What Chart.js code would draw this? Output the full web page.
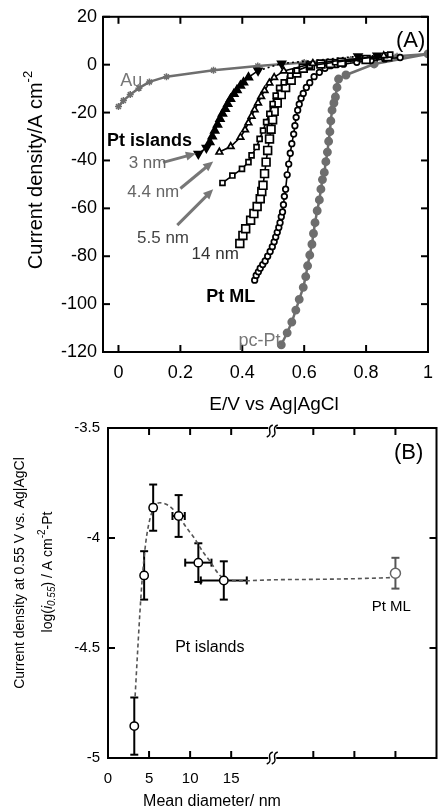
<!DOCTYPE html>
<html>
<head>
<meta charset="utf-8">
<script src="https://cdn.jsdelivr.net/npm/chart.js@4.4.0/dist/chart.umd.min.js"></script>
<style>
  html, body { margin: 0; padding: 0; background: #fff; }
  #wrap { position: relative; width: 443px; height: 811px; }
  #wrap canvas { position: absolute; left: 0; }
</style>
</head>
<body>
<div id="wrap">
  <canvas id="chartA" width="443" height="420" style="top:0"></canvas>
  <canvas id="chartB" width="443" height="400" style="top:411px"></canvas>
</div>
<script>
// ---------- panel (A): polarization curves ----------
const xTicksA = [0, 0.2, 0.4, 0.6, 0.8, 1];
const yTicksA = [-120, -100, -80, -60, -40, -20, 0, 20];

const au_E = [0, 0.016, 0.038, 0.066, 0.1, 0.155, 0.307, 0.45, 0.6, 0.75, 0.9, 1.0];
const au_J = [-17.5, -15, -12.5, -9.8, -7.2, -5, -2.3, -0.5, 0.9, 2.2, 3.5, 4.5];

const pt3_E = [0.258, 0.284, 0.295, 0.303, 0.311, 0.32, 0.328, 0.336, 0.345, 0.353, 0.362, 0.373, 0.383, 0.394, 0.404, 0.42, 0.451, 0.527, 0.774, 0.836];
const pt3_J = [-37.2, -34.7, -32.4, -30, -27.5, -25, -22.6, -20.5, -18.5, -16.4, -14.3, -12.2, -10.6, -8.75, -7.4, -5.3, -2.5, 0.5, 3.5, 3.75];

const pt44_E = [0.326, 0.3625, 0.394, 0.409, 0.42, 0.43, 0.44, 0.451, 0.461, 0.472, 0.4875, 0.503, 0.534, 0.628, 0.857];
const pt44_J = [-36.5, -34.2, -30.3, -27.2, -24.3, -21.5, -18.8, -16, -13.3, -10.8, -7.6, -5.3, -2.6, 0.5, 3.75];

const pt55_E = [0.336, 0.368, 0.399, 0.42, 0.43, 0.446, 0.456, 0.467, 0.477, 0.4875, 0.498, 0.508, 0.519, 0.534, 0.555, 0.576, 0.618, 0.7, 0.878];
const pt55_J = [-49.4, -46.3, -43.5, -40.7, -37.9, -34.4, -31, -27.5, -24, -20.5, -16.4, -12.9, -9.7, -7.4, -4.6, -2.5, -0.4, 1, 4.2];

const pt14_E = [0.392, 0.402, 0.411, 0.427, 0.4375, 0.448, 0.458, 0.463, 0.467, 0.472, 0.477, 0.482, 0.488, 0.493, 0.498, 0.503, 0.513, 0.526, 0.54, 0.558, 0.576, 0.597, 0.62, 0.654, 0.685, 0.72, 0.8, 0.87];
const pt14_J = [-74.7, -71.3, -68.5, -65, -62.2, -59.2, -56, -53, -50.4, -45.5, -40.7, -35.8, -31, -27, -23, -19.5, -16, -12.5, -9.5, -6.5, -3.5, -1.5, -0.5, 0.3, 0.5, 1, 2.2, 3.3];

const ptML_E = [0.44, 0.445, 0.452, 0.458, 0.466, 0.474, 0.482, 0.49, 0.497, 0.503, 0.508, 0.513, 0.518, 0.522, 0.526, 0.53, 0.533, 0.536, 0.54, 0.545, 0.55, 0.555, 0.56, 0.566, 0.57, 0.574, 0.579, 0.584, 0.59, 0.597, 0.607, 0.618, 0.632, 0.649, 0.667, 0.685, 0.705, 0.727, 0.77, 0.816, 0.86, 0.91];
const ptML_J = [-90, -88, -86.5, -85, -83.5, -82, -80, -78, -76, -74, -72, -70, -68, -66, -63.5, -61.5, -58.5, -55, -52, -46, -41.5, -37, -33, -29, -25.5, -22, -19, -16.5, -14, -12, -9.5, -7.5, -5, -3.2, -1.5, -0.4, 0, 0.2, 1, 1.7, 2.4, 3];

const pcPt_E = [0.526, 0.545, 0.56, 0.573, 0.584, 0.597, 0.605, 0.611, 0.618, 0.625, 0.63, 0.635, 0.642, 0.649, 0.654, 0.659, 0.665, 0.67, 0.675, 0.679, 0.683, 0.686, 0.69, 0.696, 0.701, 0.706, 0.711, 0.735, 0.826, 1.0];
const pcPt_J = [-117, -112, -107.5, -102.5, -98, -93, -88.5, -84, -79.5, -75, -70.5, -66, -61, -56.5, -52, -48, -45, -40.5, -36.5, -32, -28, -23.5, -19, -16, -13.5, -9.5, -6, -4.3, 0.3, 4.5];

// ---------- panel (B): activity vs island size ----------
const xTicksB = [0, 5, 10, 15];
const xMarksB = [5, 10, 15, 25, 30, 35];
const yTicksB = [-5, -4.5, -4, -3.5];
const xBreakB = 20;

const isl_D = [3.2, 4.4, 5.5, 8.6, 11.0, 14.1];
const isl_logI = [-4.855, -4.17, -3.862, -3.9, -4.112, -4.193];
const isl_errY = [0.13, 0.11, 0.105, 0.095, 0.088, 0.087];
const isl_errX = [0, 0.25, 0.3, 0.75, 1.6, 2.8];

const ml_D = [35];
const ml_logI = [-4.16];
const ml_errY = [0.07];
const ml_errX = [0];

const guide_D = [3.3, 3.6, 3.9, 4.2, 4.6, 5.0, 5.6, 6.3, 7.0, 7.8, 8.6, 9.5, 10.5, 11.5, 12.5, 13.5, 14.5, 16, 20, 25, 30, 34.5];
const guide_logI = [-4.72, -4.52, -4.33, -4.17, -4.02, -3.93, -3.86, -3.84, -3.845, -3.865, -3.9, -3.95, -4.0, -4.06, -4.11, -4.165, -4.19, -4.195, -4.19, -4.188, -4.185, -4.18];

// ---------- helpers ----------
Chart.defaults.font.family = '"Liberation Sans", Arial, Helvetica, sans-serif';
Chart.defaults.color = '#000';
Chart.defaults.animation = false;
const FAM = Chart.defaults.font.family;

function pts(xs, ys) {
    return xs.map((x, i) => ({ x: x, y: ys[i] }));
}

function drawRich(ctx, parts, x, y, size, color, rot) {
    ctx.save();
    ctx.translate(x, y);
    if (rot) ctx.rotate(rot);
    ctx.fillStyle = color || '#000';
    ctx.textBaseline = 'middle';
    ctx.textAlign = 'left';
    const list = parts.map(p => typeof p === 'string' ? { t: p } : p);
    const fontOf = p => (p.italic ? 'italic ' : '') + (p.bold ? 'bold ' : '') +
        Math.round(size * (p.scale || 1)) + 'px ' + FAM;
    let w = 0;
    list.forEach(p => { ctx.font = fontOf(p); w += ctx.measureText(p.t).width; });
    let cx = -w / 2;
    list.forEach(p => {
        ctx.font = fontOf(p);
        ctx.fillText(p.t, cx, (p.dy || 0) * size);
        cx += ctx.measureText(p.t).width;
    });
    ctx.restore();
}

function line(ctx, x1, y1, x2, y2) {
    ctx.beginPath();
    ctx.moveTo(x1, y1);
    ctx.lineTo(x2, y2);
    ctx.stroke();
}

// frame, inward ticks, error bars, labels, arrows, axis breaks
function makeDecor(cfg) {
    return {
        id: 'decor',
        beforeDatasetsDraw(chart) {
            const ctx = chart.ctx, xs = chart.scales.x, ys = chart.scales.y;
            (cfg.errBars || []).forEach(eb => {
                ctx.save();
                ctx.strokeStyle = eb.color;
                ctx.lineWidth = 2;
                eb.xs.forEach((xv, i) => {
                    const yv = eb.ys[i];
                    const px = xs.getPixelForValue(xv), py = ys.getPixelForValue(yv);
                    if (eb.errY[i]) {
                        const y1 = ys.getPixelForValue(yv + eb.errY[i]);
                        const y2 = ys.getPixelForValue(yv - eb.errY[i]);
                        line(ctx, px, y1, px, y2);
                        line(ctx, px - 4, y1, px + 4, y1);
                        line(ctx, px - 4, y2, px + 4, y2);
                    }
                    if (eb.errX[i]) {
                        const x1 = xs.getPixelForValue(xv - eb.errX[i]);
                        const x2 = xs.getPixelForValue(xv + eb.errX[i]);
                        line(ctx, x1, py, x2, py);
                        line(ctx, x1, py - 4, x1, py + 4);
                        line(ctx, x2, py - 4, x2, py + 4);
                    }
                });
                ctx.restore();
            });
        },
        afterDraw(chart) {
            const ctx = chart.ctx, a = chart.chartArea;
            const xs = chart.scales.x, ys = chart.scales.y;
            ctx.save();
            ctx.strokeStyle = '#000';
            ctx.lineWidth = 2;
            ctx.strokeRect(a.left, a.top, a.right - a.left, a.bottom - a.top);
            const tl = 7;
            cfg.xMarks.forEach(v => {
                const px = xs.getPixelForValue(v);
                line(ctx, px, a.bottom, px, a.bottom - tl);
                line(ctx, px, a.top, px, a.top + tl);
            });
            cfg.yMarks.forEach(v => {
                const py = ys.getPixelForValue(v);
                line(ctx, a.left, py, a.left + tl, py);
                line(ctx, a.right, py, a.right - tl, py);
            });
            (cfg.breaks || []).forEach(v => {
                const px = xs.getPixelForValue(v);
                [a.top + 3, a.bottom].forEach(cy => {
                    ctx.fillStyle = '#fff';
                    ctx.fillRect(px - 4, cy - 4, 8, 8);
                    ctx.lineWidth = 1.5;
                    [-2.5, 2.5].forEach(dx => {
                        ctx.beginPath();
                        ctx.moveTo(px + dx - 3, cy + 6);
                        ctx.bezierCurveTo(px + dx + 5, cy + 3, px + dx - 5, cy - 3, px + dx + 3, cy - 6);
                        ctx.stroke();
                    });
                });
            });
            (cfg.arrows || []).forEach(ar => {
                const x1 = xs.getPixelForValue(ar.from[0]), y1 = ys.getPixelForValue(ar.from[1]);
                const x2 = xs.getPixelForValue(ar.to[0]), y2 = ys.getPixelForValue(ar.to[1]);
                const ang = Math.atan2(y2 - y1, x2 - x1);
                const hl = 10, hw = 4.5;
                ctx.strokeStyle = '#777';
                ctx.fillStyle = '#777';
                ctx.lineWidth = 3;
                line(ctx, x1, y1, x2 - Math.cos(ang) * hl * 0.8, y2 - Math.sin(ang) * hl * 0.8);
                ctx.beginPath();
                ctx.moveTo(x2, y2);
                ctx.lineTo(x2 - Math.cos(ang) * hl - Math.sin(ang) * hw, y2 - Math.sin(ang) * hl + Math.cos(ang) * hw);
                ctx.lineTo(x2 - Math.cos(ang) * hl + Math.sin(ang) * hw, y2 - Math.sin(ang) * hl - Math.cos(ang) * hw);
                ctx.closePath();
                ctx.fill();
            });
            ctx.restore();
            (cfg.labels || []).forEach(l => {
                drawRich(ctx, l.parts, xs.getPixelForValue(l.x), ys.getPixelForValue(l.y), l.size, l.color);
            });
            (cfg.titles || []).forEach(t => {
                drawRich(ctx, t.parts, t.px, t.py, t.size, t.color, t.rot);
            });
        }
    };
}

function fmt(v) { return String(v); }

// ---------- chart A ----------
const decorA = makeDecor({
    xMarks: xTicksA,
    yMarks: yTicksA,
    labels: [
        { x: 0.944, y: 10, parts: ['(A)'], size: 22, color: '#000' },
        { x: 0.041, y: -6.7, parts: ['Au'], size: 18, color: '#777' },
        { x: 0.1, y: -31.7, parts: [{ t: 'Pt islands', bold: true }], size: 18, color: '#000' },
        { x: 0.094, y: -41.3, parts: ['3 nm'], size: 17, color: '#666' },
        { x: 0.1125, y: -53.3, parts: ['4.4 nm'], size: 17, color: '#666' },
        { x: 0.144, y: -72.5, parts: ['5.5 nm'], size: 17, color: '#444' },
        { x: 0.3125, y: -79.2, parts: ['14 nm'], size: 17, color: '#333' },
        { x: 0.3625, y: -97.1, parts: [{ t: 'Pt ML', bold: true }], size: 18, color: '#000' },
        { x: 0.456, y: -115.4, parts: ['pc-Pt'], size: 18, color: '#777' }
    ],
    arrows: [
        { from: [0.144, -40.8], to: [0.25, -37.1] },
        { from: [0.2, -51.7], to: [0.306, -40.4] },
        { from: [0.19, -67], to: [0.306, -52] }
    ],
    titles: [
        { px: 274, py: 405, parts: ['E/V vs Ag|AgCl'], size: 19 },
        { px: 36, py: 170, rot: -Math.PI / 2, size: 20,
          parts: ['Current density/A cm', { t: '-2', scale: 0.65, dy: -0.4 }] }
    ]
});

const blackLine = { borderColor: '#000', borderWidth: 1.6, showLine: true, pointBorderColor: '#000', pointBorderWidth: 1.7 };
const grayLine = { borderColor: '#6e6e6e', borderWidth: 2.5, showLine: true, pointBorderColor: '#6e6e6e', pointBackgroundColor: '#6e6e6e' };

new Chart(document.getElementById('chartA'), {
    type: 'scatter',
    data: {
        datasets: [
            Object.assign({ label: '3 nm', data: pts(pt3_E, pt3_J), pointStyle: 'triangle', pointRadius: 4.5,
                pointBackgroundColor: '#000',
                pointRotation: pt3_E.map((e, i) => (i < 2 || i > 15) ? 180 : 0),
                segment: { borderDash: c => c.p0DataIndex >= 16 ? [2, 3] : undefined } }, blackLine),
            Object.assign({ label: '4.4 nm', data: pts(pt44_E, pt44_J), pointStyle: 'triangle', pointRadius: 3.8,
                pointBackgroundColor: '#fff' }, blackLine),
            Object.assign({ label: '5.5 nm', data: pts(pt55_E, pt55_J), pointStyle: 'rect', pointRadius: 3.5,
                pointBackgroundColor: '#fff' }, blackLine),
            Object.assign({ label: '14 nm', data: pts(pt14_E, pt14_J), pointStyle: 'rect', pointRadius: 5.5,
                pointBackgroundColor: '#fff' }, blackLine),
            Object.assign({ label: 'Pt ML', data: pts(ptML_E, ptML_J), pointStyle: 'circle', pointRadius: 2.8,
                pointBackgroundColor: '#fff' }, blackLine),
            Object.assign({ label: 'pc-Pt', data: pts(pcPt_E, pcPt_J), pointStyle: 'circle', pointRadius: 3.2 }, grayLine),
            Object.assign({ label: 'Au', data: pts(au_E, au_J), pointStyle: 'star', pointRadius: 3.5, pointBorderWidth: 1.5 }, grayLine)
        ]
    },
    options: {
        responsive: false,
        layout: { padding: { left: 0, right: 5, top: 16, bottom: 0 } },
        plugins: { legend: { display: false }, tooltip: { enabled: false } },
        scales: {
            x: {
                type: 'linear', min: -0.05, max: 1.0,
                afterBuildTicks: s => { s.ticks = xTicksA.map(v => ({ value: v })); },
                afterFit: s => { s.height = 68; },
                grid: { display: false, drawTicks: false },
                border: { display: false },
                ticks: { font: { size: 18 }, padding: 10, maxRotation: 0, autoSkip: false, callback: fmt, color: '#000' }
            },
            y: {
                type: 'linear', min: -120, max: 20,
                afterBuildTicks: s => { s.ticks = yTicksA.map(v => ({ value: v })); },
                afterFit: s => { s.width = 103; },
                grid: { display: false, drawTicks: false },
                border: { display: false },
                ticks: { font: { size: 18 }, padding: 6, autoSkip: false, callback: fmt, color: '#000' }
            }
        }
    },
    plugins: [decorA]
});

// ---------- chart B ----------
const decorB = makeDecor({
    xMarks: xMarksB,
    yMarks: yTicksB,
    breaks: [xBreakB],
    errBars: [
        { xs: isl_D, ys: isl_logI, errX: isl_errX, errY: isl_errY, color: '#000' },
        { xs: ml_D, ys: ml_logI, errX: ml_errX, errY: ml_errY, color: '#555' }
    ],
    labels: [
        { x: 36.6, y: -3.614, parts: ['(B)'], size: 22, color: '#000' },
        { x: 34.5, y: -4.314, parts: ['Pt ML'], size: 15, color: '#000' },
        { x: 12.4, y: -4.5, parts: ['Pt islands'], size: 16, color: '#000' }
    ],
    titles: [
        { px: 212, py: 391, parts: ['Mean diameter/ nm'], size: 16 },
        { px: 20, py: 162, rot: -Math.PI / 2, size: 14, parts: ['Current density at 0.55 V vs. Ag|AgCl'] },
        { px: 48, py: 161, rot: -Math.PI / 2, size: 14,
          parts: ['log(', { t: 'i', italic: true }, { t: '0.55', italic: true, scale: 0.7, dy: 0.3 }, ') / A cm',
                  { t: '-2', scale: 0.7, dy: -0.4 }, '-Pt'] }
    ]
});

new Chart(document.getElementById('chartB'), {
    type: 'scatter',
    data: {
        datasets: [
            { label: 'Pt islands', data: pts(isl_D, isl_logI), pointStyle: 'circle', pointRadius: 4.2,
              pointBackgroundColor: '#fff', pointBorderColor: '#000', pointBorderWidth: 1.5, showLine: false, order: 0 },
            { label: 'Pt ML', data: pts(ml_D, ml_logI), pointStyle: 'circle', pointRadius: 5,
              pointBackgroundColor: '#fff', pointBorderColor: '#666', pointBorderWidth: 1.5, showLine: false, order: 1 },
            { label: 'trend', data: pts(guide_D, guide_logI), pointRadius: 0, showLine: true,
              borderColor: '#555', borderWidth: 1.6, borderDash: [4, 3], cubicInterpolationMode: 'monotone', order: 2 }
        ]
    },
    options: {
        responsive: false,
        layout: { padding: { left: 0, right: 5, top: 8, bottom: 0 } },
        plugins: { legend: { display: false }, tooltip: { enabled: false } },
        scales: {
            x: {
                type: 'linear', min: 0, max: 40,
                afterBuildTicks: s => { s.ticks = xTicksB.map(v => ({ value: v })); },
                afterFit: s => { s.height = 53; },
                grid: { display: false, drawTicks: false },
                border: { display: false },
                ticks: { font: { size: 15 }, padding: 12, maxRotation: 0, autoSkip: false, callback: fmt, color: '#000' }
            },
            y: {
                type: 'linear', min: -5, max: -3.5,
                afterBuildTicks: s => { s.ticks = yTicksB.map(v => ({ value: v })); },
                afterFit: s => { s.width = 108; },
                grid: { display: false, drawTicks: false },
                border: { display: false },
                ticks: { font: { size: 15 }, padding: 8, autoSkip: false, callback: fmt, color: '#000' }
            }
        }
    },
    plugins: [decorB]
});
</script>
</body>
</html>
